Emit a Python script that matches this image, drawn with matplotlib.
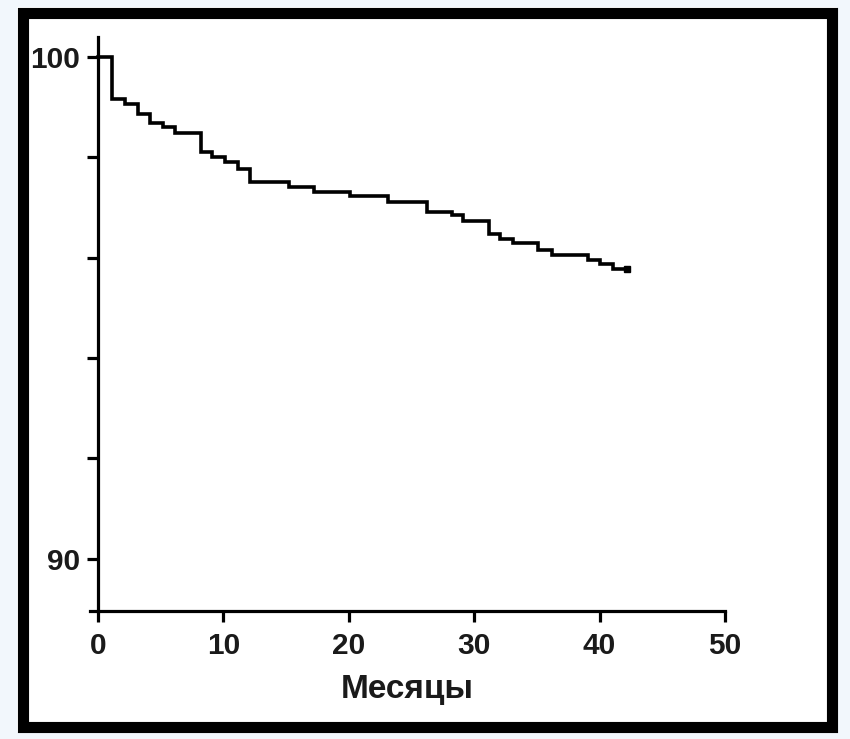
import matplotlib
matplotlib.use("Agg")
import matplotlib.pyplot as plt
from matplotlib.patches import Rectangle

# Data (Kaplan-Meier style step curve)
months = [0, 1.15, 2.15, 3.15, 4.15, 5.2, 6.15, 8.2, 9.1, 10.1, 11.2, 12.1,
          15.2, 17.2, 20.1, 23.15, 26.2, 28.2, 29.1, 31.2, 32.05, 33.1, 35.1,
          36.2, 39.1, 40.0, 41.1]
survival = [100, 99.16, 99.06, 98.86, 98.68, 98.60, 98.49, 98.11, 98.01, 97.91,
            97.76, 97.52, 97.42, 97.32, 97.23, 97.12, 96.92, 96.85, 96.74, 96.47,
            96.37, 96.29, 96.16, 96.06, 95.96, 95.88, 95.77]
end_month = 42.15
x_ticks = [0, 10, 20, 30, 40, 50]
y_major = [90, 100]
y_minor = [92, 94, 96, 98]
x_label = "Месяцы"

plt.rcParams['font.family'] = ['Liberation Sans', 'DejaVu Sans']

W, H = 850, 739
fig = plt.figure(figsize=(W / 100, H / 100), dpi=100)
fig.patch.set_facecolor('#f2f7fc')

# white inner area + thick black frame
fig.patches.append(Rectangle((17 / W, 1 - 732 / H), (837 - 17) / W, (732 - 7) / H,
                             transform=fig.transFigure, facecolor='white',
                             edgecolor='none', zorder=-10))
fig.patches.append(Rectangle((23 / W, 1 - 726.5 / H), (831.5 - 23) / W, (726.5 - 12.5) / H,
                             transform=fig.transFigure, facecolor='none',
                             edgecolor='black', linewidth=8, zorder=-5))

left_px, right_px = 89.85, 725
bottom_px, top_px = 611, 37
ax = fig.add_axes([left_px / W, 1 - bottom_px / H, (right_px - left_px) / W,
                   (bottom_px - top_px) / H])
ax.set_zorder(5)
ax.set_facecolor('none')

xs = months + [end_month]
ys = survival + [survival[-1]]
ax.step(xs, ys, where='post', color='black', linewidth=2.6, solid_joinstyle='miter',
        clip_on=False)
ax.plot([end_month], [survival[-1]], marker='s', markersize=4.5, color='black',
        clip_on=False)

ax.set_xlim(-0.65, 50)
ax.set_ylim(88.96, 100.4)

for s in ['top', 'right']:
    ax.spines[s].set_visible(False)
ax.spines['left'].set_position(('data', 0))
for s in ['left', 'bottom']:
    ax.spines[s].set_linewidth(2.3)
    ax.spines[s].set_capstyle('projecting')

ax.set_xticks(x_ticks)
ax.set_xticklabels([str(v) for v in x_ticks])
ax.set_yticks(y_major)
ax.set_yticklabels([str(v) for v in y_major])
ax.set_yticks(y_minor, minor=True)

ax.tick_params(axis='both', which='both', direction='out', length=8, width=2.3,
               color='black')
ax.tick_params(axis='x', pad=7, labelsize=21.5)
ax.tick_params(axis='y', pad=5, labelsize=21.5)
for lab in ax.get_xticklabels() + ax.get_yticklabels():
    lab.set_fontweight('bold')
    lab.set_color('#1a1a1a')

ax.set_xlabel(x_label, fontsize=24, fontweight='bold', color='#1a1a1a', labelpad=10)

fig.savefig('out.png', dpi=100, facecolor=fig.get_facecolor())
